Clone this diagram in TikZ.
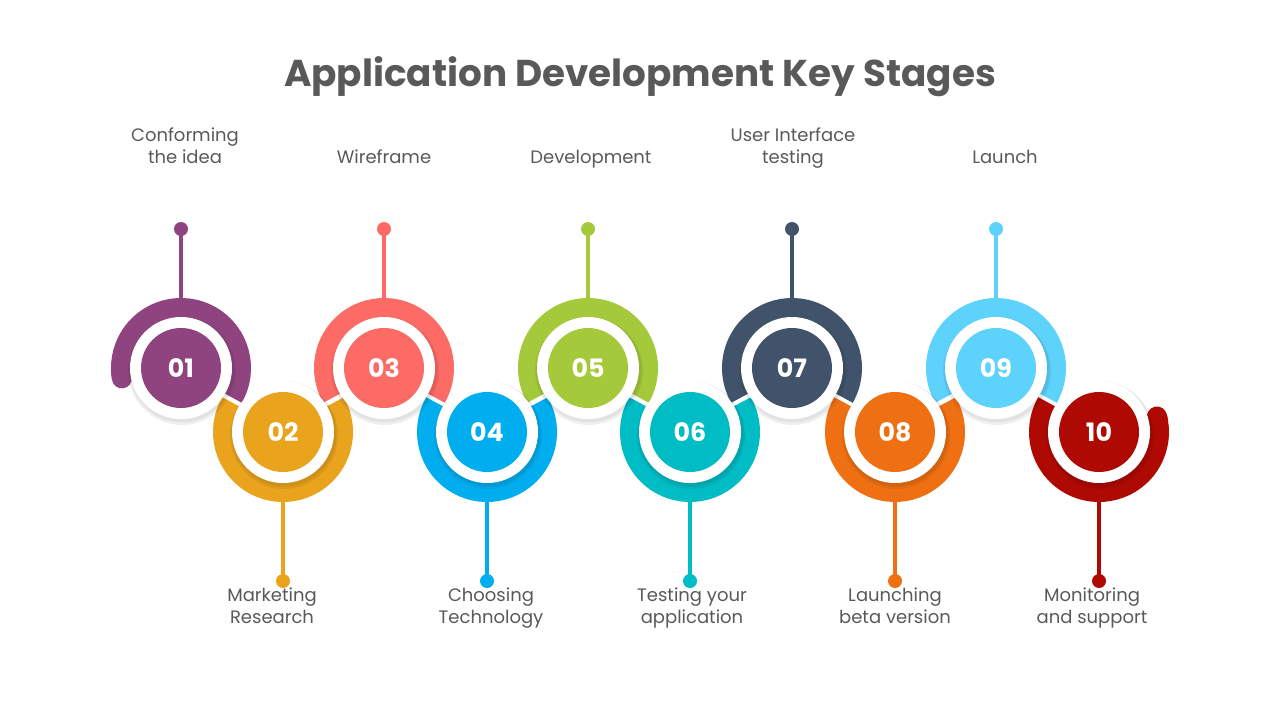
\documentclass[tikz,border=0pt]{standalone}
\usepackage{fontspec}
\setmainfont{Poppins}
\definecolor{c1}{HTML}{8F4480}\definecolor{c2}{HTML}{E9A31D}
\definecolor{c3}{HTML}{FC6B66}\definecolor{c4}{HTML}{00AEEF}
\definecolor{c5}{HTML}{A4C93A}\definecolor{c6}{HTML}{00BCC4}
\definecolor{c7}{HTML}{41536B}\definecolor{c8}{HTML}{EE7013}
\definecolor{c9}{HTML}{5DD3FC}\definecolor{c10}{HTML}{AE0A03}
\definecolor{txt}{HTML}{595959}
\tikzset{lbl/.style={align=center,text=txt,font=\fontsize{13.5}{16.5}\selectfont,inner sep=0pt,text height=10pt,anchor=north},
num/.style={text=white,font=\bfseries\fontsize{19}{19}\selectfont}}
\begin{document}
\begin{tikzpicture}[x=0.75pt,y=-0.75pt]
\useasboundingbox (0,0) rectangle (1280,720);
\node (title) at (640,77) {\fontsize{28}{30}\selectfont\bfseries\color{txt}Application Development Key Stages};
% rings
\foreach \x/\c/\a/\b/\i in {181/c1/-30/190/1,384/c3/-30/210/3,588/c5/-30/210/5,792/c7/-30/210/7,996/c9/-30/210/9}{
  \draw[\c,line width=15pt] (\x,368) ++(\a:60 and -60) arc[start angle=\a,end angle=\b,x radius=60,y radius=-60];
  \draw[\c,line width=3pt] (\x,298) -- (\x,229);
  \fill[\c] (\x,229) circle (7);
}
\draw[c1,line width=15pt,line cap=round] (181,368) ++(185:60 and -60) arc[start angle=185,end angle=190,x radius=60,y radius=-60];
\foreach \x/\c/\a/\b in {283/c2/150/390,487/c4/150/390,690/c6/150/390,895/c8/150/390,1099/c10/150/375}{
  \draw[\c,line width=15pt] (\x,432) ++(\a:60 and -60) arc[start angle=\a,end angle=\b,x radius=60,y radius=-60];
  \draw[\c,line width=3pt] (\x,502) -- (\x,581);
  \fill[\c] (\x,581) circle (7);
}
\draw[c10,line width=15pt,line cap=round] (1099,432) ++(370:60 and -60) arc[start angle=370,end angle=375,x radius=60,y radius=-60];
% discs
\foreach \x/\y/\c/\n in {181/368/c1/01,283/432/c2/02,384/368/c3/03,487/432/c4/04,588/368/c5/05,690/432/c6/06,792/368/c7/07,895/432/c8/08,996/368/c9/09,1099/432/c10/10}{
  \fill[black,opacity=0.06] (\x+1,\y+3) circle (54);
  \fill[black,opacity=0.06] (\x+1,\y+2) circle (52.5);
  \fill[white] (\x,\y) circle (51);
  \fill[\c] (\x,\y) circle (40);
  \node[num] (n\n) at (\x,\y) {\n};
}
% labels
\node[lbl] (l1) at (185,150) {Conforming\\the idea};
\node[lbl] (l3) at (384,150) {Wireframe};
\node[lbl] (l5) at (591,150) {Development};
\node[lbl] (l7) at (793,150) {User Interface\\testing};
\node[lbl] (l9) at (1005,150) {Launch};
\node[lbl] (l2) at (272,610) {Marketing\\Research};
\node[lbl] (l4) at (491,610) {Choosing\\Technology};
\node[lbl] (l6) at (692,610) {Testing your\\application};
\node[lbl] (l8) at (895,610) {Launching\\beta version};
\node[lbl] (l10) at (1092,610) {Monitoring\\and support};
\end{tikzpicture}
\end{document}
